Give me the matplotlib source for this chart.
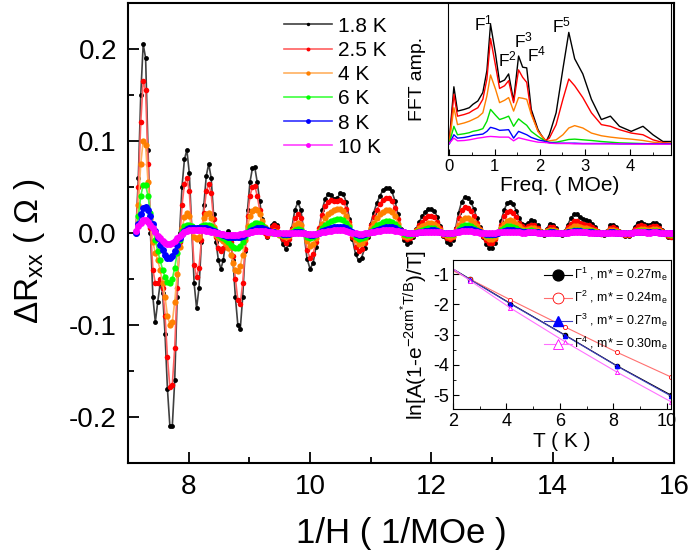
import numpy as np
import matplotlib
matplotlib.use('Agg')
import matplotlib.pyplot as plt
from matplotlib.ticker import MultipleLocator, FormatStrFormatter

plt.rcParams['font.family'] = ['Liberation Sans', 'DejaVu Sans']
plt.rcParams['mathtext.fontset'] = 'custom'
plt.rcParams['mathtext.rm'] = 'Liberation Sans'
plt.rcParams['mathtext.it'] = 'Liberation Sans:italic'
plt.rcParams['axes.unicode_minus'] = False

# ---------------- main panel: dR_xx vs 1/H ----------------
# 1/H sample positions (read every 0.04 below 9.5, every 0.05 above)
inv_h = np.concatenate([np.round(np.linspace(7.13, 9.49, 60), 2),
                        np.round(np.linspace(9.55, 16.0, 130), 2)])

temps = ['1.8 K', '2.5 K', '4 K', '6 K', '8 K', '10 K']

dr_1p8 = [0.00, 0.06, 0.15, 0.205, 0.19, 0.09, 0.00, -0.07, -0.097, -0.075,
          -0.055, -0.065, -0.11, -0.17, -0.21, -0.21, -0.16, -0.07, 0.00, 0.05,
          0.08, 0.09, 0.065, 0.005, -0.055, -0.082, -0.06, -0.01, 0.03, 0.062,
          0.075, 0.06, 0.02, -0.01, -0.03, -0.039, -0.03, -0.008, 0.002, -0.005,
          -0.03, -0.07, -0.10, -0.105, -0.07, -0.02, 0.025, 0.055, 0.07, 0.071,
          0.055, 0.035, 0.015, 0.0, -0.005, 0.0, 0.008, 0.011, 0.008, -0.002,
          # 9.55 - 9.95
          -0.012, -0.018, -0.012, 0.005, 0.025, 0.033, 0.025, 0.0, -0.028,
          # 10.00 - 10.95
          -0.039, -0.033, -0.015, 0.005, 0.025, 0.037, 0.042, 0.041, 0.037, 0.038,
          0.043, 0.042, 0.033, 0.015, -0.007, -0.023, -0.030, -0.027, -0.017, -0.004,
          # 11.00 - 11.95
          0.01, 0.022, 0.032, 0.040, 0.046, 0.049, 0.049, 0.045, 0.035, 0.02,
          0.004, -0.008, -0.012, -0.01, -0.004, 0.004, 0.012, 0.018, 0.023, 0.026,
          # 12.00 - 12.95
          0.026, 0.024, 0.017, 0.007, -0.003, -0.01, -0.012, -0.008, 0.005, 0.022,
          0.034, 0.039, 0.038, 0.034, 0.026, 0.016, 0.006, -0.004, -0.012, -0.016,
          # 13.00 - 13.95
          -0.016, -0.011, 0.0, 0.013, 0.025, 0.032, 0.034, 0.031, 0.024, 0.016,
          0.01, 0.008, 0.011, 0.014, 0.013, 0.008, 0.002, -0.002, 0.004, 0.010,
          # 14.00 - 14.95
          0.009, 0.005, 0.0, -0.002, 0.002, 0.009, 0.016, 0.02, 0.02, 0.017,
          0.015, 0.014, 0.013, 0.01, 0.006, 0.002, -0.001, -0.002, 0.002, 0.008,
          # 15.00 - 16.00
          0.009, 0.006, 0.002, -0.001, -0.003, -0.003, 0.001, 0.006, 0.011, 0.012,
          0.01, 0.008, 0.009, 0.011, 0.011, 0.008, 0.003, -0.001, -0.004, -0.005,
          -0.006]

dr_2p5 = [0.00, 0.05, 0.12, 0.165, 0.155, 0.075, 0.005, -0.04, -0.055, -0.055,
          -0.05, -0.06, -0.09, -0.135, -0.168, -0.165, -0.125, -0.06, -0.01, 0.03,
          0.053, 0.06, 0.045, 0.005, -0.035, -0.048, -0.038, -0.008, 0.022, 0.045,
          0.053, 0.043, 0.015, -0.005, -0.016, -0.02, -0.017, -0.008, -0.005, -0.01,
          -0.025, -0.05, -0.073, -0.077, -0.055, -0.018, 0.018, 0.04, 0.05, 0.051,
          0.04, 0.025, 0.01, 0.0, -0.003, 0.0, 0.006, 0.008, 0.006, -0.001,
          -0.007, -0.011, -0.007, 0.004, 0.016, 0.02, 0.016, 0.0, -0.019,
          -0.027, -0.023, -0.01, 0.005, 0.019, 0.029, 0.034, 0.036, 0.035, 0.035,
          0.036, 0.034, 0.026, 0.012, -0.004, -0.015, -0.02, -0.018, -0.011, -0.002,
          0.008, 0.017, 0.025, 0.031, 0.036, 0.038, 0.038, 0.035, 0.027, 0.015,
          0.003, -0.005, -0.007, -0.006, -0.002, 0.003, 0.008, 0.012, 0.016, 0.018,
          0.018, 0.017, 0.012, 0.005, -0.002, -0.006, -0.007, -0.005, 0.004, 0.016,
          0.025, 0.028, 0.027, 0.024, 0.018, 0.011, 0.004, -0.003, -0.008, -0.011,
          -0.011, -0.007, 0.0, 0.009, 0.018, 0.023, 0.024, 0.022, 0.017, 0.011,
          0.007, 0.005, 0.007, 0.009, 0.009, 0.005, 0.001, -0.001, 0.003, 0.006,
          0.006, 0.003, 0.0, -0.001, 0.001, 0.006, 0.01, 0.013, 0.013, 0.011,
          0.01, 0.009, 0.008, 0.006, 0.004, 0.001, -0.001, -0.001, 0.001, 0.005,
          0.006, 0.004, 0.001, -0.001, -0.002, -0.002, 0.001, 0.004, 0.007, 0.008,
          0.007, 0.005, 0.006, 0.007, 0.007, 0.005, 0.002, -0.001, -0.003, -0.004,
          -0.004]

dr_4 = [0.0, 0.03, 0.075, 0.10, 0.095, 0.055, 0.015, -0.01, -0.022, -0.03,
        -0.04, -0.055, -0.07, -0.09, -0.1, -0.097, -0.075, -0.045, -0.015, 0.005,
        0.017, 0.022, 0.018, 0.006, -0.004, -0.007, -0.004, 0.006, 0.016, 0.021,
        0.022, 0.016, 0.006, -0.002, -0.005, -0.007, -0.009, -0.012, -0.017, -0.024,
        -0.033, -0.04, -0.041, -0.036, -0.024, -0.008, 0.007, 0.018, 0.024, 0.026,
        0.025, 0.02, 0.013, 0.006, 0.002, 0.0, 0.001, 0.002, 0.001, -0.002,
        -0.003, -0.005, -0.003, 0.002, 0.008, 0.011, 0.009, 0.0, -0.009,
        -0.014, -0.012, -0.006, 0.002, 0.01, 0.016, 0.02, 0.023, 0.025, 0.026,
        0.026, 0.024, 0.018, 0.009, -0.001, -0.008, -0.012, -0.011, -0.007, -0.001,
        0.005, 0.011, 0.016, 0.02, 0.023, 0.025, 0.025, 0.023, 0.018, 0.01,
        0.002, -0.003, -0.004, -0.003, -0.001, 0.002, 0.005, 0.007, 0.009, 0.011,
        0.011, 0.01, 0.007, 0.003, -0.001, -0.003, -0.004, -0.003, 0.002, 0.009,
        0.014, 0.016, 0.016, 0.014, 0.011, 0.007, 0.003, -0.001, -0.005, -0.007,
        -0.007, -0.005, 0.0, 0.005, 0.01, 0.013, 0.014, 0.013, 0.01, 0.007,
        0.004, 0.003, 0.004, 0.005, 0.005, 0.003, 0.001, 0.0, 0.002, 0.003,
        0.003, 0.002, 0.0, 0.0, 0.001, 0.003, 0.005, 0.007, 0.007, 0.006,
        0.005, 0.005, 0.004, 0.003, 0.002, 0.001, 0.0, 0.0, 0.001, 0.003,
        0.003, 0.002, 0.001, 0.0, -0.001, -0.001, 0.0, 0.002, 0.003, 0.004,
        0.004, 0.003, 0.003, 0.004, 0.004, 0.003, 0.001, 0.0, -0.001, -0.002,
        -0.002]

dr_6 = [0.0, 0.018, 0.04, 0.052, 0.052, 0.04, 0.022, 0.005, -0.008, -0.02,
        -0.03, -0.04, -0.048, -0.053, -0.054, -0.05, -0.038, -0.022, -0.008, 0.002,
        0.007, 0.009, 0.009, 0.007, 0.005, 0.004, 0.005, 0.007, 0.009, 0.009,
        0.009, 0.007, 0.004, 0.001, -0.002, -0.004, -0.006, -0.008, -0.01, -0.013,
        -0.015, -0.016, -0.016, -0.014, -0.01, -0.004, 0.002, 0.006, 0.009, 0.011,
        0.011, 0.01, 0.008, 0.005, 0.003, 0.001, 0.0, 0.0, 0.0, -0.001,
        -0.002, -0.002, -0.001, 0.001, 0.003, 0.004, 0.003, 0.0, -0.004,
        -0.006, -0.005, -0.002, 0.001, 0.005, 0.008, 0.011, 0.013, 0.014, 0.015,
        0.015, 0.014, 0.011, 0.006, 0.0, -0.004, -0.007, -0.006, -0.004, -0.001,
        0.002, 0.005, 0.008, 0.01, 0.012, 0.013, 0.013, 0.012, 0.01, 0.006,
        0.002, -0.001, -0.002, -0.002, -0.001, 0.001, 0.002, 0.003, 0.004, 0.005,
        0.005, 0.005, 0.003, 0.001, 0.0, -0.001, -0.001, -0.001, 0.001, 0.004,
        0.007, 0.008, 0.008, 0.007, 0.005, 0.003, 0.001, 0.0, -0.002, -0.002,
        -0.002, -0.001, 0.001, 0.003, 0.005, 0.007, 0.007, 0.006, 0.005, 0.003,
        0.002, 0.002, 0.002, 0.003, 0.002, 0.001, 0.0, 0.0, 0.001, 0.002,
        0.001, 0.001, 0.0, 0.0, 0.0, 0.001, 0.002, 0.003, 0.003, 0.003,
        0.002, 0.002, 0.002, 0.002, 0.001, 0.0, 0.0, 0.0, 0.0, 0.001,
        0.001, 0.001, 0.0, 0.0, 0.0, 0.0, 0.0, 0.001, 0.002, 0.002,
        0.002, 0.001, 0.001, 0.002, 0.002, 0.001, 0.0, 0.0, -0.001, -0.001,
        -0.001]

dr_8 = [0.0, 0.01, 0.02, 0.027, 0.028, 0.025, 0.018, 0.01, 0.002, -0.006,
        -0.013, -0.019, -0.024, -0.027, -0.027, -0.025, -0.02, -0.013, -0.006, -0.001,
        0.002, 0.004, 0.005, 0.005, 0.005, 0.005, 0.005, 0.005, 0.005, 0.005,
        0.004, 0.003, 0.002, 0.001, 0.0, -0.001, -0.002, -0.003, -0.004, -0.005,
        -0.005, -0.005, -0.005, -0.004, -0.003, -0.001, 0.0, 0.002, 0.003, 0.004,
        0.005, 0.005, 0.005, 0.004, 0.003, 0.002, 0.001, 0.001, 0.0, 0.0,
        -0.001, -0.001, -0.001, 0.0, 0.001, 0.001, 0.001, 0.0, -0.001,
        -0.002, -0.002, -0.001, 0.0, 0.002, 0.003, 0.004, 0.005, 0.006, 0.0065,
        0.0065, 0.006, 0.005, 0.003, 0.001, -0.001, -0.002, -0.002, -0.001, 0.0,
        0.001, 0.002, 0.003, 0.004, 0.005, 0.006, 0.0065, 0.006, 0.005, 0.003,
        0.002, 0.001, 0.0, 0.0, 0.0, 0.0, 0.001, 0.001, 0.002, 0.002,
        0.003, 0.003, 0.002, 0.001, 0.0, 0.0, 0.0, 0.0, 0.001, 0.002,
        0.003, 0.004, 0.004, 0.004, 0.003, 0.002, 0.001, 0.0, -0.001, -0.001,
        -0.001, -0.001, 0.0, 0.001, 0.002, 0.003, 0.003, 0.003, 0.002, 0.002,
        0.001, 0.001, 0.001, 0.001, 0.001, 0.001, 0.0, 0.0, 0.0, 0.001,
        0.001, 0.0, 0.0, 0.0, 0.0, 0.001, 0.001, 0.002, 0.002, 0.002,
        0.001, 0.001, 0.001, 0.001, 0.0, 0.0, 0.0, 0.0, 0.0, 0.001,
        0.001, 0.0, 0.0, 0.0, 0.0, 0.0, 0.0, 0.001, 0.001, 0.001,
        0.001, 0.001, 0.001, 0.001, 0.001, 0.001, 0.0, 0.0, 0.0, 0.0,
        0.0]

dr_10 = [0.002, 0.007, 0.011, 0.014, 0.014, 0.012, 0.009, 0.005, 0.001, -0.003,
         -0.006, -0.009, -0.011, -0.012, -0.012, -0.011, -0.009, -0.006, -0.003, -0.001,
         0.001, 0.002, 0.003, 0.003, 0.003, 0.003, 0.003, 0.003, 0.003, 0.002,
         0.002, 0.001, 0.001, 0.0, 0.0, -0.001, -0.001, -0.002, -0.002, -0.002,
         -0.002, -0.002, -0.002, -0.001, -0.001, 0.0, 0.0, 0.001, 0.001, 0.002,
         0.002, 0.002, 0.002, 0.002, 0.001, 0.001, 0.001, 0.0, 0.0, 0.0,
         0.0, 0.0, 0.0, 0.0, 0.0, 0.0, 0.0, 0.0, -0.001,
         -0.001, -0.001, -0.001, 0.0, 0.001, 0.001, 0.002, 0.002, 0.003, 0.003,
         0.003, 0.003, 0.002, 0.001, 0.0, 0.0, -0.001, -0.001, 0.0, 0.0,
         0.001, 0.001, 0.002, 0.002, 0.003, 0.003, 0.003, 0.003, 0.002, 0.002,
         0.001, 0.001, 0.0, 0.0, 0.0, 0.0, 0.001, 0.001, 0.001, 0.001,
         0.001, 0.001, 0.001, 0.001, 0.0, 0.0, 0.0, 0.0, 0.001, 0.001,
         0.002, 0.002, 0.002, 0.002, 0.001, 0.001, 0.0, 0.0, 0.0, 0.0,
         0.0, 0.0, 0.001, 0.001, 0.001, 0.001, 0.001, 0.001, 0.001, 0.001,
         0.0, 0.0, 0.001, 0.001, 0.001, 0.0, 0.0, 0.0, 0.0, 0.0,
         0.0, 0.0, 0.0, 0.0, 0.0, 0.0, 0.001, 0.001, 0.001, 0.001,
         0.001, 0.001, 0.0, 0.0, 0.0, 0.0, 0.0, 0.0, 0.0, 0.0,
         0.0, 0.0, 0.0, 0.0, 0.0, 0.0, 0.0, 0.001, 0.001, 0.001,
         0.001, 0.0, 0.0, 0.001, 0.001, 0.0, 0.0, 0.0, 0.0, 0.0,
         0.0]

main_series = [dr_1p8, dr_2p5, dr_4, dr_6, dr_8, dr_10]
mark_cols = ['#000000', '#ff0000', '#ff8000', '#00ff00', '#0000ff', '#ff00ff']
line_cols = ['#404040', '#ff6060', '#ffb060', '#40ff40', '#3030ff', '#ff40ff']
mark_sizes = [3.5, 4, 4.5, 4.5, 5, 5]

# ---------------- FFT inset ----------------
freq = [0, 0.1, 0.18, 0.33, 0.44, 0.52, 0.63, 0.74, 0.83, 0.91, 1.02, 1.11,
        1.22, 1.31, 1.42, 1.53, 1.62, 1.71, 1.81, 1.96, 2.13, 2.21, 2.36, 2.51,
        2.64, 2.77, 2.95, 3.14, 3.36, 3.56, 3.76, 4.02, 4.28, 4.50, 4.72, 4.89]
fft_1p8 = [45, 202, 130, 135, 140, 150, 160, 185, 250, 387, 300, 215, 222, 240, 160, 293, 260, 258,
           135, 75, 37, 60, 125, 255, 363, 285, 240, 165, 105, 115, 85, 70, 85, 60, 40, 40]
fft_2p5 = [40, 180, 115, 120, 125, 132, 140, 165, 225, 345, 265, 197, 205, 220, 155, 252, 230, 215,
           125, 70, 43, 50, 90, 165, 225, 205, 170, 125, 90, 85, 75, 65, 60, 45, 37, 35]
fft_4 = [37, 140, 90, 95, 100, 105, 112, 125, 175, 237, 195, 155, 162, 170, 130, 170, 168, 165,
         120, 70, 40, 42, 45, 60, 80, 87, 80, 65, 57, 53, 50, 47, 43, 38, 35, 35]
fft_6 = [35, 85, 60, 63, 66, 70, 73, 78, 100, 135, 118, 105, 110, 115, 85, 107, 97, 88,
         70, 55, 40, 37, 38, 42, 46, 47, 45, 43, 40, 38, 36, 35, 34, 33, 33, 33]
fft_8 = [33, 60, 50, 52, 55, 58, 60, 62, 70, 82, 78, 73, 74, 75, 50, 70, 65, 60,
         52, 45, 40, 37, 35, 35, 35, 35, 34, 34, 34, 34, 33, 33, 33, 33, 33, 33]
fft_10 = [35, 50, 42, 43, 45, 47, 50, 52, 54, 55, 54, 53, 53, 53, 42, 51, 48, 45,
          42, 38, 37, 35, 34, 34, 34, 33, 33, 33, 33, 33, 33, 32, 32, 32, 32, 32]
fft_series = [fft_1p8, fft_2p5, fft_4, fft_6, fft_8, fft_10]
fft_cols = ['#000000', '#ff0000', '#ff8000', '#00e000', '#0000ff', '#ff00ff']

peak_names = ['F$^{\\mathregular{1}}$', 'F$^{\\mathregular{2}}$', 'F$^{\\mathregular{3}}$',
              'F$^{\\mathregular{4}}$', 'F$^{\\mathregular{5}}$']
peak_pos = [(0.76, 390), (1.28, 283), (1.63, 340), (1.92, 297), (2.49, 385)]

# ---------------- mass inset ----------------
temp_k = [1.8, 2.65, 4.15, 6.2, 8.15, 10.15]
ln_g1 = [-0.72, -1.17, -1.97, -3.02, -4.04, -5.0]
ln_g2 = [-0.80, -1.17, -1.85, -2.75, -3.59, -4.40]
ln_g3 = [-0.73, -1.18, -1.98, -3.03, -4.05, -5.03]
ln_g4 = [-0.70, -1.22, -2.12, -3.24, -4.25, -5.22]
mass_labels = ['Γ$^{\\mathregular{1}}$ , m* = 0.27m$_{\\mathregular{e}}$',
               'Γ$^{\\mathregular{2}}$ , m* = 0.24m$_{\\mathregular{e}}$',
               'Γ$^{\\mathregular{3}}$ , m* = 0.27m$_{\\mathregular{e}}$',
               'Γ$^{\\mathregular{4}}$ , m* = 0.30m$_{\\mathregular{e}}$']

fig = plt.figure(figsize=(6.92, 5.57), dpi=100)

ax = fig.add_axes([0.185, 0.169, 0.789, 0.826])
for vals, mc, lc, ms, lab in zip(main_series, mark_cols, line_cols, mark_sizes, temps):
    ax.plot(inv_h, vals, '-', color=lc, lw=1.2, marker='o', ms=ms, mfc=mc, mec=mc,
            mew=0, label=lab)
ax.set_xlim(7, 16)
ax.set_ylim(-0.25, 0.25)
ax.xaxis.set_major_locator(MultipleLocator(2))
ax.xaxis.set_minor_locator(MultipleLocator(1))
ax.yaxis.set_major_locator(MultipleLocator(0.1))
ax.yaxis.set_minor_locator(MultipleLocator(0.05))
ax.yaxis.set_major_formatter(FormatStrFormatter('%.1f'))
ax.tick_params(which='both', direction='in', labelsize=20, width=1.3)
ax.tick_params(which='major', length=8, pad=8)
ax.tick_params(which='minor', length=4)
for s in ax.spines.values():
    s.set_linewidth(1.5)
ax.set_xlabel('1/H ( 1/MOe )', fontsize=25, labelpad=12)
ax.set_ylabel('ΔR$_{\\mathregular{xx}}$ ( Ω )', fontsize=24)
ax.yaxis.set_label_coords(-0.148, 0.46)

leg = ax.legend(loc='upper left', bbox_to_anchor=(0.41, 0.97), bbox_transform=fig.transFigure,
                frameon=False, fontsize=15, handlelength=2.3, handletextpad=0.3,
                labelspacing=0.25, borderpad=0, borderaxespad=0, markerscale=0.7)

# FFT inset
ax1 = fig.add_axes([0.6474, 0.7217, 0.3223, 0.2729])
for vals, c in zip(fft_series, fft_cols):
    ax1.plot(freq, vals, '-', color=c, lw=1)
for name, (fx, fy) in zip(peak_names, peak_pos):
    ax1.text(fx, fy, name, fontsize=12.5, ha='center', va='center')
ax1.set_xlim(-0.03, 4.9)
ax1.set_ylim(0, 450)
ax1.set_yticks([])
ax1.xaxis.set_major_locator(MultipleLocator(1))
ax1.xaxis.set_minor_locator(MultipleLocator(0.5))
ax1.tick_params(which='both', direction='in', labelsize=12, pad=3)
ax1.tick_params(which='major', length=4)
ax1.tick_params(which='minor', length=2)
ax1.set_xlabel('Freq. ( MOe)', fontsize=15, labelpad=1)
ax1.set_ylabel('FFT amp.', fontsize=14)
ax1.yaxis.set_label_coords(-0.10, 0.5)

# effective mass inset
ax2 = fig.add_axes([0.6546, 0.2657, 0.315, 0.2675])
ax2.plot(temp_k, ln_g1, '-o', color='#000000', lw=0.8, ms=3, label=mass_labels[0])
ax2.plot(temp_k, ln_g2, '-o', color='#ff7070', lw=0.8, ms=3, mfc='white', mec='#ff0000',
         mew=0.6, label=mass_labels[1])
ax2.plot(temp_k, ln_g3, '-^', color='#4040c0', lw=0.8, ms=3, mfc='#0000ff', mec='#0000ff',
         label=mass_labels[2])
ax2.plot(temp_k, ln_g4, '-^', color='#ff70ff', lw=0.8, ms=3, mfc='white', mec='#ff00ff',
         mew=0.6, label=mass_labels[3])
ax2.set_xlim(2, 10.15)
ax2.set_ylim(-5.46, -0.53)
ax2.xaxis.set_major_locator(MultipleLocator(2))
ax2.xaxis.set_minor_locator(MultipleLocator(1))
ax2.yaxis.set_major_locator(MultipleLocator(1))
ax2.yaxis.set_minor_locator(MultipleLocator(0.5))
ax2.tick_params(which='both', direction='in', labelsize=13, pad=3)
ax2.tick_params(which='major', length=4)
ax2.tick_params(which='minor', length=2)
ax2.set_xlabel('T ( K )', fontsize=15, labelpad=1)
ax2.set_ylabel('ln[A(1-e$^{\\mathregular{-2\\alpha m^{*}T/B}}$)/T]', fontsize=15, labelpad=2)
ax2.legend(loc='upper right', bbox_to_anchor=(1.02, 1.01), frameon=False, fontsize=9,
           markerscale=2.6, handlelength=2.2, handletextpad=0.2, labelspacing=0.45,
           borderpad=0.1)

fig.savefig('out.png', dpi=100)
